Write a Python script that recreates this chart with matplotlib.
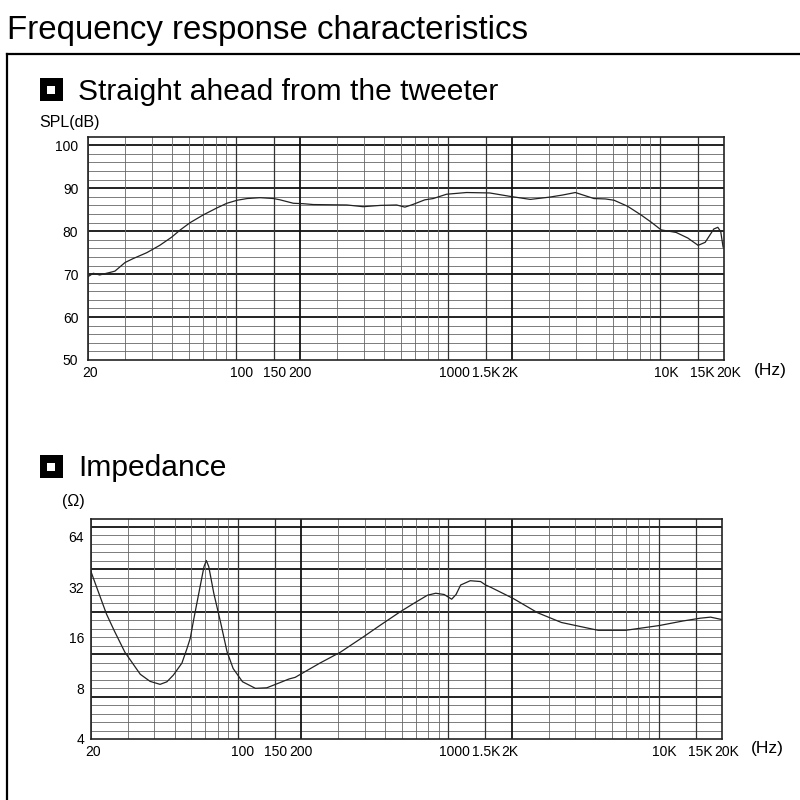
import numpy as np
import matplotlib.pyplot as plt
import matplotlib.transforms as mtransforms
from matplotlib.lines import Line2D
from matplotlib.patches import Rectangle

plt.rcParams['font.family'] = ['Liberation Sans', 'DejaVu Sans']

# SPL curve, straight ahead from the tweeter (Hz, dB)
spl_freq = [20, 21.2, 22.7, 25.9, 26.8, 29.9, 32.6, 37.9, 43.6, 49.6, 54.5, 60.7, 70, 81, 90.4,
            101, 112.6, 129.6, 150, 161, 186, 207, 231, 333, 397, 478, 571, 625, 680, 776, 850,
            982, 1220, 1570, 1960, 2440, 2980, 3450, 3980, 4870, 5530, 6060, 7020, 8110, 9070,
            10100, 11900, 13500, 15100, 16300, 17900, 18700, 19300, 19800]
spl_db = [69.4, 70.2, 69.8, 70.5, 70.7, 72.7, 73.6, 75.0, 76.7, 78.6, 80.3, 82.0, 83.8, 85.4, 86.5,
          87.2, 87.6, 87.8, 87.6, 87.3, 86.5, 86.4, 86.2, 86.1, 85.7, 86.0, 86.1, 85.6, 86.2, 87.3, 87.6,
          88.6, 89.0, 88.9, 88.1, 87.4, 87.9, 88.4, 89.0, 87.6, 87.5, 87.2, 85.8, 83.8, 82.1,
          80.3, 79.7, 78.4, 76.7, 77.4, 80.5, 80.9, 79.9, 76.3]

# impedance curve (Hz, ohm)
imp_freq = [20, 21.3, 23.7, 25.8, 29.0, 34.3, 38.2, 42.6, 45.9, 49.3, 54.1, 57.2, 59.3, 61.5, 65.1,
            68.9, 70.7, 72.6, 76.7, 82.8, 88.7, 94.8, 105, 121, 137, 160, 175, 187, 201, 245, 306,
            395, 475, 590, 685, 795, 871, 955, 1037, 1088, 1144, 1271, 1423, 1504, 1590, 2030, 2660,
            3450, 5157, 6951, 10070, 13010, 15770, 17650, 20000]
imp_ohm = [39.5, 31.8, 22.1, 17.6, 13.1, 9.7, 8.8, 8.45, 8.75, 9.6, 11.3, 13.8, 15.9, 20.4, 29.4,
           42.3, 46.0, 42.3, 29.4, 19.5, 13.2, 10.5, 8.76, 8.0, 8.06, 8.7, 9.1, 9.3, 9.8, 11.3, 13.1,
           16.2, 19.0, 22.8, 25.6, 28.6, 29.4, 28.9, 27.1, 28.9, 32.9, 34.9, 34.5, 32.9, 31.9, 27.4, 22.5,
           19.7, 17.7, 17.7, 18.9, 20.1, 20.9, 21.2, 20.5]

xtick_vals = [20, 100, 150, 200, 1000, 1500, 2000, 10000, 15000, 20000]
xtick_labels = ['20', '100', '150', '200', '1000', '1.5K', '2K', '10K', '15K', '20K']
xtick_nudge = [2, 5, 1, 0, 6, 1, -2, 6, 5, 5]  # printed labels sit a little off their lines (px)
spl_ticks = [50, 60, 70, 80, 90, 100]
imp_ticks = [4, 8, 16, 32, 64]

W = 800.0
narrow = ['Liberation Sans Narrow', 'Liberation Sans', 'DejaVu Sans']


def px(x, y, w, h):  # pixel box (top-left origin) -> figure fraction rect
    return [x / W, 1 - (y + h) / W, w / W, h / W]


def vgrid(ax):  # graph paper vertical lines
    for dec in [10, 100, 1000]:
        for m in [2, 3, 4, 5, 6, 7, 8, 9, 10, 15]:
            f = m * dec
            if f < 20 or f > 20000:
                continue
            if f in (200, 2000):
                ax.axvline(f, color='#111111', lw=1.3, zorder=1)
            elif f in (100, 150, 1000, 1500, 10000, 15000):
                ax.axvline(f, color='#333333', lw=0.9, zorder=1)
            else:
                ax.axvline(f, color='#666666', lw=0.6, zorder=1)


def style(ax):
    ax.set_xscale('log')
    ax.set_xlim(20, 20000)
    ax.set_xticks(xtick_vals)
    ax.set_xticklabels(xtick_labels)
    ax.xaxis.set_minor_locator(plt.NullLocator())
    ax.tick_params(axis='both', length=0, labelsize=10, pad=4)
    for s in ax.spines.values():
        s.set_color('#222222')
        s.set_linewidth(1.2)


def narrow_labels(ax):
    for lab in ax.get_xticklabels() + ax.get_yticklabels():
        lab.set_family(narrow)
    for lab, dx in zip(ax.get_xticklabels(), xtick_nudge):
        lab.set_transform(lab.get_transform() +
                          mtransforms.ScaledTranslation(dx / 100.0, 0, fig.dpi_scale_trans))


fig = plt.figure(figsize=(8, 8), dpi=100)

# outer frame
fig.add_artist(Line2D([7 / W, 7 / W], [1 - 53.7 / W, -0.05], color='black', lw=1.6))
fig.add_artist(Line2D([7 / W, 1.05], [1 - 53.7 / W, 1 - 53.7 / W], color='black', lw=1.6))

fig.text(7 / W, 1 - 38.5 / W, 'Frequency response characteristics', fontsize=23.8, va='baseline')

# section headers with square icons
for (iy, ty, label) in [(78, 100, 'Straight ahead from the tweeter'), (455, 476.5, 'Impedance')]:
    fig.add_artist(Rectangle((40 / W, 1 - (iy + 23) / W), 23 / W, 23 / W, transform=fig.transFigure,
                             facecolor='black', edgecolor='none'))
    fig.add_artist(Rectangle((47 / W, 1 - (iy + 15.5) / W), 8 / W, 8 / W, transform=fig.transFigure,
                             facecolor='white', edgecolor='none'))
    fig.text(78 / W, 1 - ty / W, label, fontsize=21.6, va='baseline')

# --- SPL chart ---
ax1 = fig.add_axes(px(88, 136.7, 636, 223.3))
style(ax1)
ax1.set_ylim(50, 102)
ax1.set_yticks(spl_ticks)
for v in range(52, 102, 2):
    if v % 10 == 0:
        ax1.axhline(v, color='#111111', lw=1.3, zorder=1)
    else:
        ax1.axhline(v, color='#666666', lw=0.6, zorder=1)
vgrid(ax1)
ax1.plot(spl_freq, spl_db, color='#222222', lw=0.9, zorder=3)
ax1.tick_params(axis='y', pad=7)
narrow_labels(ax1)
fig.text(39 / W, 1 - 122 / W, 'SPL(dB)', fontsize=11.5, va='center')
fig.text(770 / W, 1 - 370 / W, '(Hz)', fontsize=12.5, va='center', ha='center')

# --- Impedance chart ---
ax2 = fig.add_axes(px(91, 519, 631, 220))
style(ax2)
ztop = 4 * 2 ** (220 / 50.65)
ax2.set_yscale('log', base=2)
ax2.set_ylim(4, ztop)
ax2.set_yticks(imp_ticks)
ax2.set_yticklabels([str(t) for t in imp_ticks])
ax2.yaxis.set_minor_locator(plt.NullLocator())
# the printed graph paper does not line up with the ohm labels
step = 42.4 / 220
for k in range(1, 26):
    fr = k * step / 5
    if fr >= 1:
        break
    if k % 5 == 0:
        ax2.plot([0, 1], [fr, fr], transform=ax2.transAxes, color='#111111', lw=1.3, zorder=1)
    else:
        ax2.plot([0, 1], [fr, fr], transform=ax2.transAxes, color='#666666', lw=0.6, zorder=1)
vgrid(ax2)
ax2.plot(imp_freq, imp_ohm, color='#222222', lw=0.9, zorder=3)
ax2.tick_params(axis='y', pad=5)
narrow_labels(ax2)
fig.text(62 / W, 1 - 502 / W, '(\u03a9)', fontsize=11.5, va='center')
fig.text(767 / W, 1 - 748 / W, '(Hz)', fontsize=12.5, va='center', ha='center')

fig.savefig('out.png', dpi=100)
